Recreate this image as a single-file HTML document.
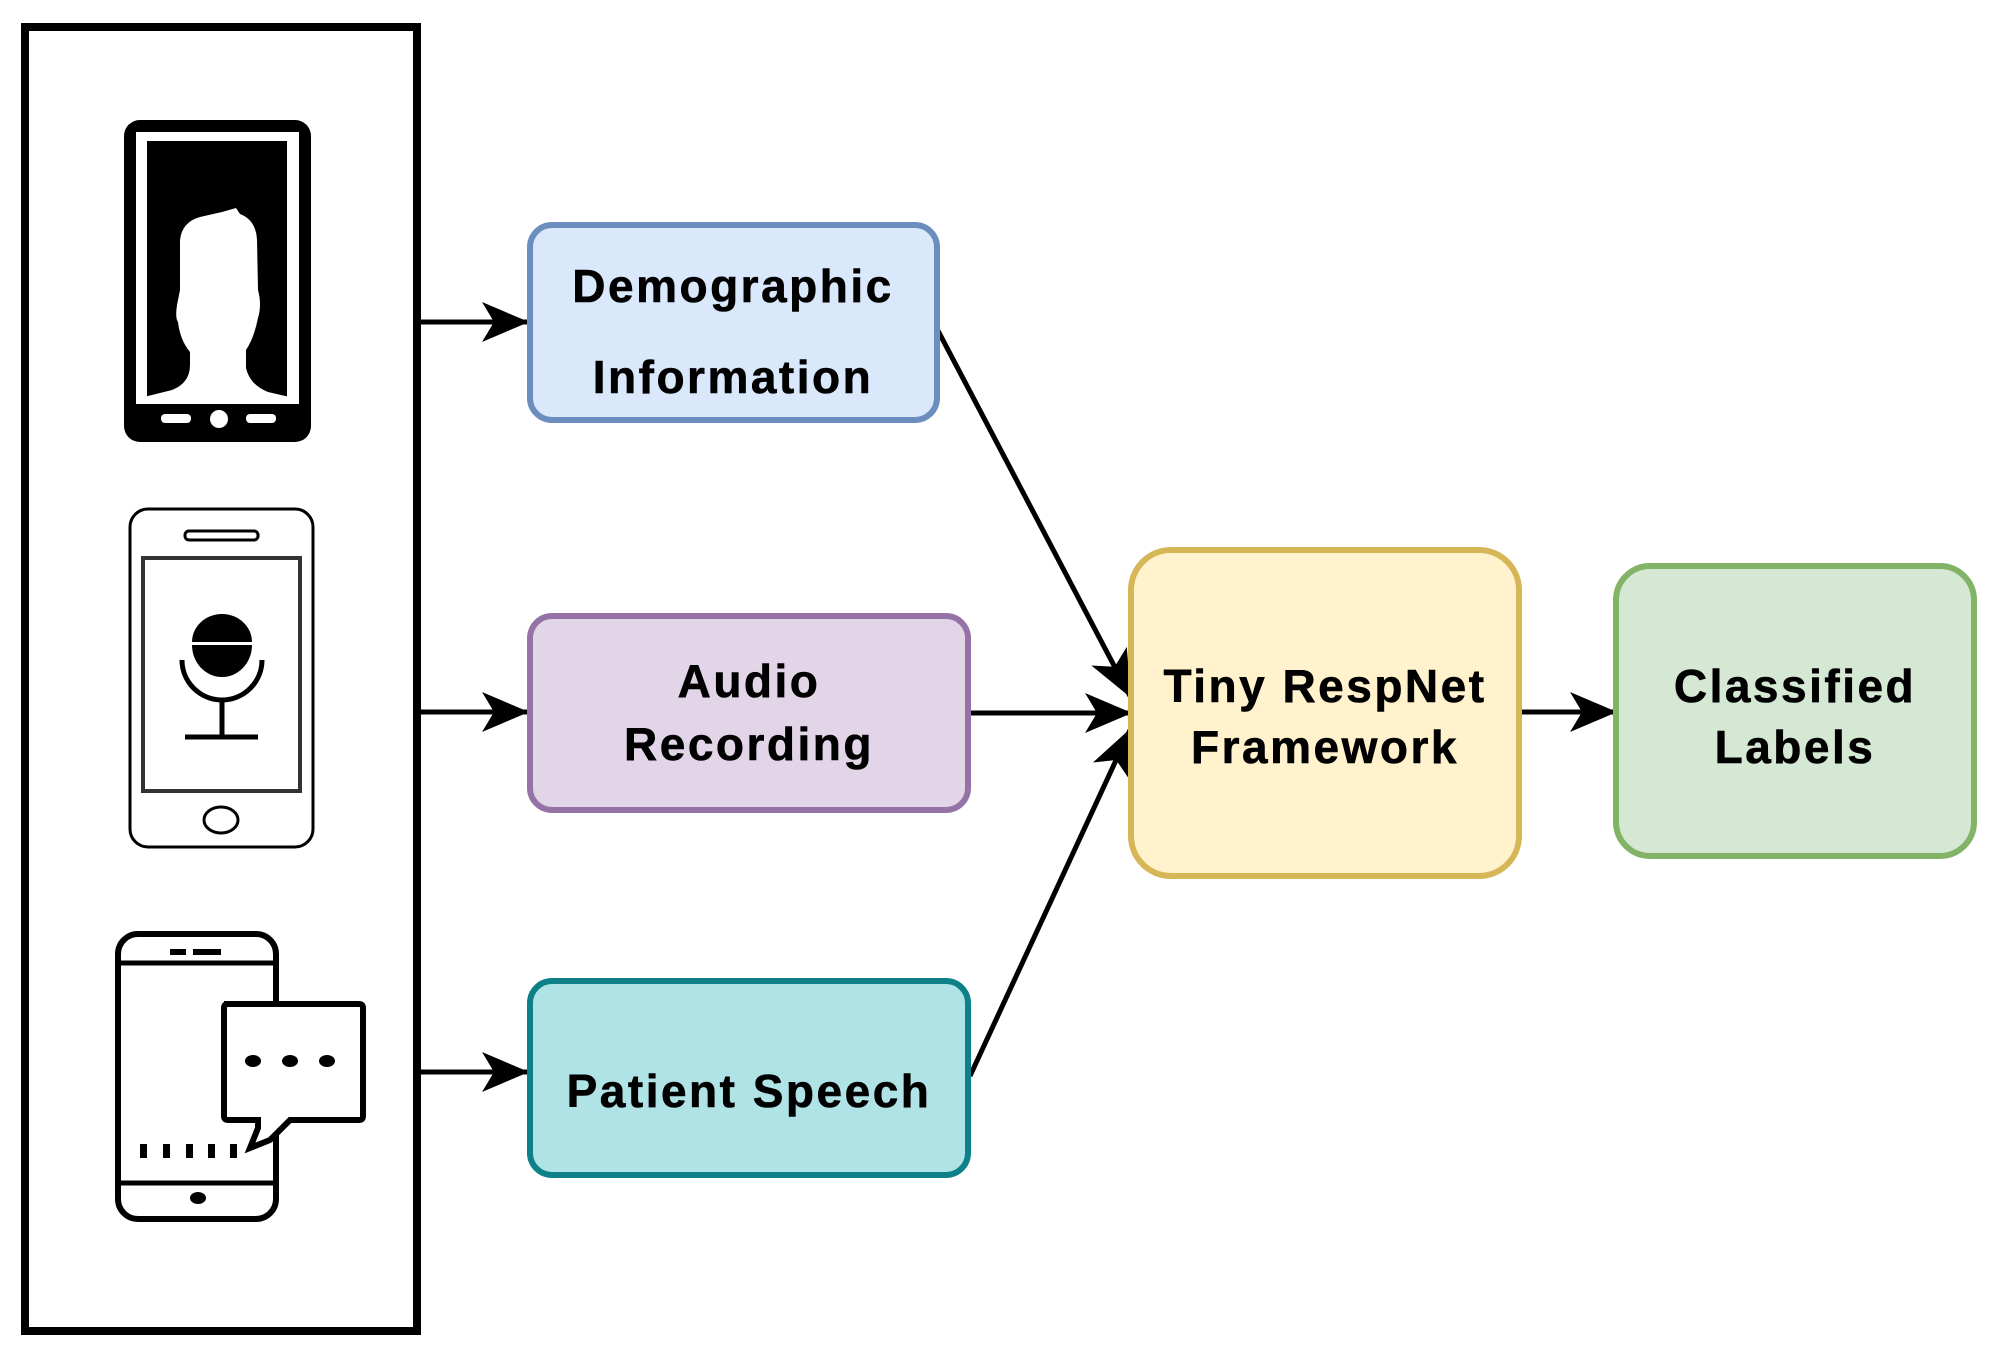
<!DOCTYPE html>
<html><head><meta charset="utf-8"><style>
html,body{margin:0;padding:0;background:#fff;}
svg{display:block}
text{font-family:"Liberation Sans",Arial,sans-serif;font-weight:bold;font-size:46px;fill:#000;text-anchor:middle;letter-spacing:2.5px;stroke:#000;stroke-width:0.6px}
</style></head><body>
<svg width="2000" height="1354" viewBox="0 0 2000 1354" xmlns="http://www.w3.org/2000/svg">
<defs>
<marker id="ah" markerWidth="48" markerHeight="42" refX="46" refY="21" orient="auto" markerUnits="userSpaceOnUse" viewBox="0 0 48 42">
<path d="M48 21 L1 1 L13 21 L1 41 Z" fill="#000"/>
</marker>
</defs>
<rect x="25" y="27" width="392" height="1304" fill="#fff" stroke="#000" stroke-width="8"/>

<!-- phone 1 -->
<rect x="124" y="120" width="187" height="322" rx="16" fill="#000"/>
<rect x="136" y="132" width="163" height="272" fill="#fff"/>
<rect x="147" y="141" width="140" height="260" fill="#000"/>
<path d="M140 404 L140 398 L172 390 Q190 383 190 365 L190 352 Q180 340 178 322 Q175 318 177 305 L180 290 L180 240 Q182 222 200 217 L222 212 L236 208 L240 214 Q256 220 257 240 L258 290 Q262 305 258 318 Q254 338 246 350 L246 368 Q250 385 268 392 L294 398 L294 404 Z" fill="#fff"/>
<rect x="161" y="414" width="30" height="9" rx="4" fill="#fff"/>
<circle cx="219" cy="419" r="9" fill="#fff"/>
<rect x="246" y="414" width="30" height="9" rx="4" fill="#fff"/>

<!-- phone 2 -->
<rect x="130" y="509" width="183" height="338" rx="18" fill="#fff" stroke="#000" stroke-width="3"/>
<rect x="143" y="558" width="157" height="233" fill="#fff" stroke="#333" stroke-width="4"/>
<rect x="185" y="531" width="73" height="9" rx="4" fill="#fff" stroke="#000" stroke-width="3"/>
<ellipse cx="221" cy="820" rx="17" ry="13" fill="#fff" stroke="#000" stroke-width="3"/>
<path d="M192 642 A30 28 0 0 1 252 642 Z" fill="#000"/>
<path d="M192 645 H252 A30 32 0 0 1 192 645 Z" fill="#000"/>
<path d="M182 660 A40 40 0 0 0 262 660" fill="none" stroke="#000" stroke-width="5"/>
<line x1="222" y1="700" x2="222" y2="735" stroke="#000" stroke-width="5"/>
<line x1="185" y1="737" x2="258" y2="737" stroke="#000" stroke-width="5"/>

<!-- phone 3 -->
<rect x="118" y="934" width="158" height="285" rx="20" fill="#fff" stroke="#000" stroke-width="6"/>
<line x1="118" y1="963" x2="276" y2="963" stroke="#000" stroke-width="5"/>
<line x1="118" y1="1183" x2="276" y2="1183" stroke="#000" stroke-width="5"/>
<rect x="170" y="949" width="16" height="6" fill="#000"/>
<rect x="193" y="949" width="28" height="6" fill="#000"/>
<ellipse cx="198" cy="1198" rx="8" ry="6" fill="#000"/>
<g fill="#000"><rect x="140" y="1144" width="7" height="14"/><rect x="163" y="1144" width="7" height="14"/><rect x="186" y="1144" width="7" height="14"/><rect x="208" y="1144" width="7" height="14"/><rect x="230" y="1144" width="7" height="14"/></g>
<path d="M224 1004 H359 Q363 1004 363 1008 V1116 Q363 1120 359 1120 H290 L270 1140 L250 1148 L258 1128 L258 1120 H228 Q224 1120 224 1116 V1008 Q224 1004 228 1004 Z" fill="#fff" stroke="#000" stroke-width="6"/>
<ellipse cx="253" cy="1061" rx="8" ry="6" fill="#000"/>
<ellipse cx="290" cy="1061" rx="8" ry="6" fill="#000"/>
<ellipse cx="327" cy="1061" rx="8" ry="6" fill="#000"/>

<g stroke="#000" stroke-width="5" fill="none">
<line x1="417" y1="322" x2="527" y2="322" marker-end="url(#ah)"/>
<line x1="417" y1="712" x2="527" y2="712" marker-end="url(#ah)"/>
<line x1="417" y1="1072" x2="527" y2="1072" marker-end="url(#ah)"/>
<line x1="935" y1="325" x2="1130" y2="696" marker-end="url(#ah)"/>
<line x1="970" y1="713" x2="1130" y2="713" marker-end="url(#ah)"/>
<line x1="970" y1="1076" x2="1130" y2="730" marker-end="url(#ah)"/>
<line x1="1520" y1="712" x2="1615" y2="712" marker-end="url(#ah)"/>
</g>

<rect x="530" y="225" width="407" height="195" rx="22" fill="#dae8fc" stroke="#6c8ebf" stroke-width="6"/>
<text x="733" y="302">Demographic</text>
<text x="733" y="393">Information</text>

<rect x="530" y="616" width="438" height="194" rx="22" fill="#e1d5e7" stroke="#9673a6" stroke-width="6"/>
<text x="749" y="697">Audio</text>
<text x="749" y="760">Recording</text>

<rect x="530" y="981" width="438" height="194" rx="22" fill="#b0e3e6" stroke="#0e8088" stroke-width="6"/>
<text x="749" y="1107">Patient Speech</text>

<rect x="1131" y="550" width="388" height="326" rx="40" fill="#fff2cc" stroke="#d6b656" stroke-width="6"/>
<text x="1325" y="702">Tiny RespNet</text>
<text x="1325" y="763">Framework</text>

<rect x="1616" y="566" width="358" height="290" rx="34" fill="#d5e8d4" stroke="#82b366" stroke-width="6"/>
<text x="1795" y="702">Classified</text>
<text x="1795" y="763">Labels</text>
</svg>
</body></html>
